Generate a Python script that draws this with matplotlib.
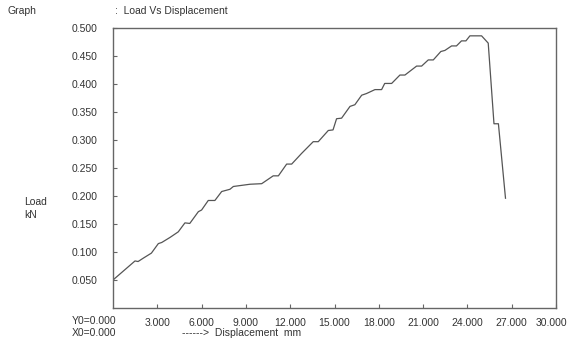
import matplotlib
matplotlib.use("Agg")
import matplotlib.pyplot as plt
from matplotlib.transforms import ScaledTranslation

plt.rcParams['font.family'] = ['Liberation Sans', 'DejaVu Sans']

# Load-displacement record
displacement_mm = [0.0, 1.49, 1.7, 2.05, 2.6, 3.07, 3.3, 3.86, 4.42, 4.87, 5.2, 5.78, 6.0,
                   6.45, 6.9, 7.36, 7.92, 8.15, 9.28, 10.07, 10.85, 11.2, 11.76, 12.1,
                   12.77, 13.56, 13.9, 14.58, 14.9, 15.14, 15.48, 16.05, 16.38, 16.84,
                   17.17, 17.74, 18.19, 18.4, 18.87, 19.43, 19.77, 20.56, 20.9, 21.35,
                   21.69, 22.2, 22.48, 22.93, 23.26, 23.6, 23.9, 24.17, 24.96, 25.41,
                   25.8, 26.1, 26.58]
load_kN = [0.05, 0.084, 0.083, 0.089, 0.098, 0.115, 0.117, 0.126, 0.136, 0.152, 0.151,
           0.172, 0.175, 0.192, 0.192, 0.208, 0.212, 0.217, 0.221, 0.222, 0.236, 0.236,
           0.257, 0.257, 0.276, 0.297, 0.297, 0.317, 0.318, 0.338, 0.339, 0.36, 0.363,
           0.38, 0.383, 0.39, 0.39, 0.401, 0.401, 0.416, 0.416, 0.432, 0.432, 0.443,
           0.443, 0.458, 0.46, 0.468, 0.468, 0.477, 0.477, 0.486, 0.486, 0.473, 0.329,
           0.329, 0.196]

x_ticks = [3, 6, 9, 12, 15, 18, 21, 24, 27, 30]
y_ticks = [0.05, 0.10, 0.15, 0.20, 0.25, 0.30, 0.35, 0.40, 0.45, 0.50]

text_color = '#333333'
frame_color = '#666666'
fs = 7.5

fig = plt.figure(figsize=(5.67, 3.41), dpi=100)
ax = fig.add_axes([113/567, 1 - 308/341, (556 - 113)/567, (308 - 28)/341])

ax.plot(displacement_mm, load_kN, color='#555555', lw=0.9)

ax.set_xlim(0, 30)
ax.set_ylim(0, 0.5)
ax.set_xticks(x_ticks)
ax.set_xticklabels([f'{v:.3f}' for v in x_ticks])
ax.set_yticks(y_ticks)
ax.set_yticklabels([f'{v:.3f}' for v in y_ticks])
ax.tick_params(direction='in', length=3, width=0.8, color=frame_color,
               labelsize=fs, labelcolor=text_color)
ax.tick_params(axis='x', pad=7)
ax.tick_params(axis='y', pad=11)
for s in ax.spines.values():
    s.set_color(frame_color)
    s.set_linewidth(1.0)

# keep the last x label inside the canvas
last = ax.get_xticklabels()[-1]
last.set_transform(last.get_transform() + ScaledTranslation(-5/100, 0, fig.dpi_scale_trans))

fig.text(7/567, 1 - 11/341, 'Graph', fontsize=fs, color=text_color, va='center', ha='left')
fig.text(115/567, 1 - 11/341, ':  Load Vs Displacement', fontsize=fs, color=text_color,
         va='center', ha='left')
fig.text(24/567, 1 - 202/341, 'Load', fontsize=fs, color=text_color, va='center', ha='left')
fig.text(24/567, 1 - 215/341, 'kN', fontsize=fs, color=text_color, va='center', ha='left')
fig.text(72/567, 1 - 321/341, 'Y0=0.000', fontsize=fs, color=text_color, va='center', ha='left')
fig.text(72/567, 1 - 333/341, 'X0=0.000', fontsize=fs, color=text_color, va='center', ha='left')
fig.text(182/567, 1 - 333/341, '------>  Displacement  mm', fontsize=fs, color=text_color,
         va='center', ha='left')

fig.savefig('out.png', dpi=100)
